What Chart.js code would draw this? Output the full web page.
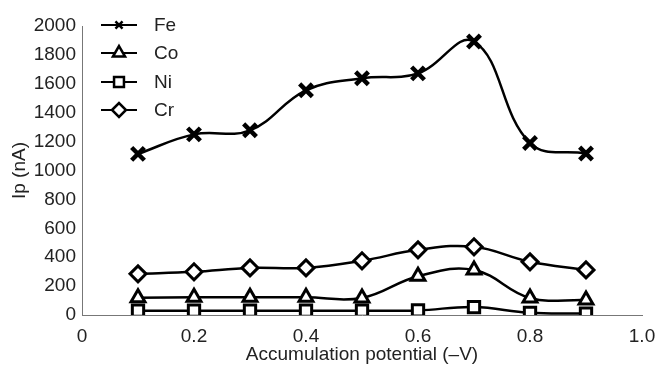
<!DOCTYPE html>
<html>
<head>
<meta charset="utf-8">
<script src="https://cdn.jsdelivr.net/npm/chart.js@4.4.1/dist/chart.umd.min.js"></script>
<style>
  body { margin: 0; background: #fff; }
  #wrap { width: 658px; height: 369px; }
</style>
</head>
<body>
<div id="wrap"><canvas id="myChart" width="658" height="369"></canvas></div>
<script>
const potentials = [0.1, 0.2, 0.3, 0.4, 0.5, 0.6, 0.7, 0.8, 0.9];
const fe = [1115, 1250, 1278, 1555, 1638, 1672, 1893, 1190, 1118];
const co = [120, 122, 122, 122, 118, 268, 312, 118, 104];
const ni = [30, 30, 30, 30, 30, 32, 55, 15, 10];
const cr = [285, 299, 326, 326, 375, 451, 472, 368, 312];
const seriesNames = ["Fe", "Co", "Ni", "Cr"];
const markerStyles = ["crossRot", "triangle", "rect", "rectRot"];

document.addEventListener("DOMContentLoaded", () => {
  const font = "'Liberation Sans', Arial, sans-serif";
  const allValues = [fe, co, ni, cr];

  const makeSet = (i) => ({
    label: seriesNames[i],
    data: potentials.map((p, j) => ({ x: p, y: allValues[i][j] })),
    borderColor: "#000",
    borderWidth: 2.5,
    tension: 0.4,
    pointStyle: markerStyles[i],
    pointRadius: i === 0 ? 9 : 8,
    pointBorderWidth: i === 0 ? 4.5 : 3,
    pointBackgroundColor: "#fff",
    pointBorderColor: "#000"
  });

  // legend drawn by hand, top-left inside the plot
  const legendPlugin = {
    id: "handLegend",
    afterDraw(chart) {
      const ctx = chart.ctx;
      const ys = [25, 53, 82, 110];
      ctx.save();
      seriesNames.forEach((name, i) => {
        const y = ys[i];
        ctx.strokeStyle = "#000";
        ctx.lineWidth = 2;
        ctx.beginPath();
        ctx.moveTo(101, y);
        ctx.lineTo(137, y);
        ctx.stroke();
        ctx.fillStyle = "#fff";
        ctx.lineWidth = 2.5;
        Chart.helpers.drawPoint(ctx, {
          pointStyle: markerStyles[i],
          radius: i === 0 ? 5 : 7,
          rotation: 0,
          borderWidth: 2.5
        }, 119, y);
        ctx.fillStyle = "#222";
        ctx.font = "19px " + font;
        ctx.textBaseline = "middle";
        ctx.fillText(name, 154, y + 1);
      });
      ctx.restore();
    }
  };

  const ctx = document.getElementById("myChart").getContext("2d");
  new Chart(ctx, {
    type: "line",
    data: { datasets: [0, 1, 2, 3].map(makeSet) },
    plugins: [legendPlugin],
    options: {
      responsive: false,
      animation: false,
      layout: { padding: { top: 26, right: 16, left: 0, bottom: 0 } },
      plugins: { legend: { display: false }, tooltip: { enabled: false } },
      scales: {
        x: {
          type: "linear",
          min: 0,
          max: 1,
          afterFit: s => { s.height = 54; s.paddingRight = 0; s.paddingLeft = 0; },
          grid: { display: false, drawTicks: false },
          border: { color: "#777", width: 1 },
          ticks: {
            stepSize: 0.2,
            color: "#222",
            padding: 12,
            font: { size: 19, family: font, lineHeight: 1 },
            callback: v => (v === 0 ? "0" : v.toFixed(1))
          },
          title: {
            display: true,
            text: "Accumulation potential (–V)",
            color: "#222",
            padding: { top: 0, bottom: 5 },
            font: { size: 19, family: font, lineHeight: 1 }
          }
        },
        y: {
          min: 0,
          max: 2000,
          afterFit: s => { s.width = 82; },
          grid: { display: false, drawTicks: false },
          border: { color: "#777", width: 1 },
          ticks: {
            stepSize: 200,
            color: "#222",
            padding: 6,
            font: { size: 19, family: font, lineHeight: 1 },
            callback: v => String(v)
          },
          title: {
            display: true,
            text: "Ip (nA)",
            color: "#222",
            padding: { top: 10, bottom: 0 },
            font: { size: 19, family: font, lineHeight: 1 }
          }
        }
      }
    }
  });
});
</script>
</body>
</html>
